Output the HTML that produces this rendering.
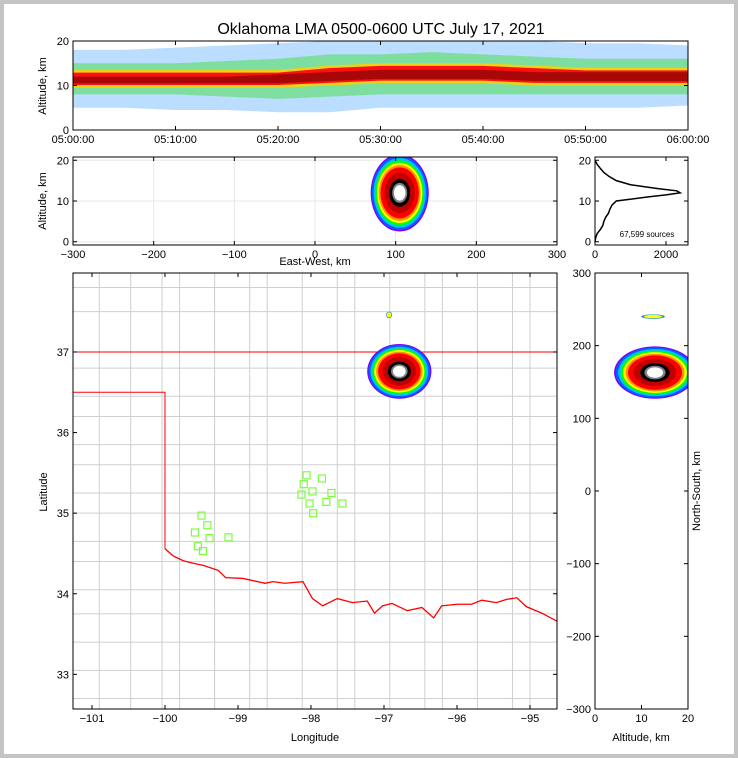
<!DOCTYPE html>
<html><head><meta charset="utf-8"><style>
body{margin:0;background:#fff}
svg{display:block;font-family:"Liberation Sans",sans-serif}
text{fill:#000}
</style></head><body>
<svg id="fig" width="738" height="758" viewBox="0 0 738 758">
<rect x="0" y="0" width="738" height="758" fill="#c4c4c4"/>
<rect x="4" y="4" width="730" height="750" fill="#fff"/>
<text x="381" y="34" font-size="16" text-anchor="middle">Oklahoma LMA 0500-0600 UTC July 17, 2021</text>
<g id="layer"></g>
</svg>
<script>
// ---- data ----
const timeMin=[0,5,10,15,20,25,30,35,40,45,50,55,60];
const scatLo=[5,5,4.5,4.5,4,4,5,5,5,5,5,5,5.5];
const scatHi=[18,18,18.5,19,19.5,20,20,20,20,20,19.5,19.5,19];
const greenLo=[8,8,8,7.5,7,7.5,8,8,8,8,8,8,8];
const greenHi=[15,15,15,15.5,16,17,17,17.5,17,16.5,16,16,16];
const coreLo=[9.5,9.5,9.5,9.5,9.5,10,10.5,10.5,10.5,10,10,10,10];
const coreHi=[13.5,13.5,13.5,13.5,13.5,14.5,15,15,15,14.5,14,14,14];
const darkLo=[10.5,10.5,10.5,10.5,10.5,11,11.5,11.5,11.5,11,11,11,11];
const darkHi=[12,12,12,12,12.5,13,13.5,13.5,13.5,13,13,13,13];
const timeTicks=["05:00:00","05:10:00","05:20:00","05:30:00","05:40:00","05:50:00","06:00:00"];
const histAlt=[0,1,2,3,4,5,6,7,8,9,10,11,11.5,12,12.5,13,13.5,14,15,16,17,18,19,20];
const histCount=[0,20,60,150,220,250,300,380,420,480,600,1500,2000,2400,2300,1800,1400,1000,600,400,250,150,60,0];
const histTicks=[0,2000];
const blobLon=[-96.79,-96.93]; const blobLat=[36.76,37.46]; const blobRx=[0.44,0.04]; const blobRy=[0.34,0.04]; const blobLvl=[1,0.3];
const ewKm=[105]; const ewAlt=[12]; const ewRx=[36]; const ewRy=[9.5];
const nsAlt=[12.9,12.5]; const nsKm=[163,240]; const nsRx=[8.8,2.5]; const nsRy=[36,3];
const stLon=[-99.50,-99.42,-99.59,-99.39,-99.55,-99.48,-99.13,-98.06,-97.85,-98.10,-97.98,-98.13,-97.72,-98.02,-97.79,-97.57,-97.97];
const stLat=[34.97,34.85,34.76,34.69,34.59,34.53,34.70,35.47,35.43,35.36,35.27,35.23,35.25,35.12,35.14,35.12,35.00];
const riverLon=[-100,-99.89,-99.75,-99.62,-99.47,-99.27,-99.17,-98.93,-98.63,-98.52,-98.36,-98.11,-97.98,-97.84,-97.64,-97.43,-97.23,-97.13,-97.02,-96.89,-96.68,-96.48,-96.32,-96.21,-96.00,-95.80,-95.66,-95.46,-95.32,-95.18,-95.05,-94.84,-94.63];
const riverLat=[34.56,34.47,34.41,34.38,34.35,34.29,34.20,34.19,34.13,34.15,34.13,34.15,33.94,33.85,33.94,33.89,33.91,33.76,33.85,33.88,33.79,33.83,33.70,33.85,33.87,33.87,33.92,33.89,33.93,33.95,33.84,33.76,33.66];
// ---- helpers ----
const NS='http://www.w3.org/2000/svg';
const L=document.getElementById('layer');
function mk(tag,at,parent){const e=document.createElementNS(NS,tag);for(const k in at)e.setAttribute(k,at[k]);(parent||L).appendChild(e);return e;}
function lin(d0,d1,r0,r1){return v=>r0+(v-d0)/(d1-d0)*(r1-r0);}
const cols=['#8000ff','#0060ff','#00c0ff','#00ff00','#ffff00','#ff9000','#ff0000','#c00000','#000000','#808080','#ffffff'];
function blob(cx,cy,rx,ry,lvl,nm){
  const g=mk('g',{});
  
  
  const fr=[1,0.96,0.9,0.84,0.78,0.72,0.66,0.52,0.36,0.26,0.2];
  const n=lvl<1?5:cols.length;
  for(let i=0;i<n;i++){const c=mk('ellipse',{cx:cx,cy:cy,rx:rx*fr[i],ry:ry*fr[i],fill:cols[i]},g);}
}
function frame(x0,y0,x1,y1,nm){const r=mk('rect',{x:x0,y:y0,width:x1-x0,height:y1-y0,fill:'none',stroke:'#000','stroke-width':1});}
function tickX(x,yb,yt,lab,nm){mk('line',{x1:x,x2:x,y1:yb,y2:yb-4,stroke:'#000'});mk('line',{x1:x,x2:x,y1:yt,y2:yt+4,stroke:'#000'});const t=mk('text',{x:x,y:yb+13,'font-size':11,'text-anchor':'middle'});t.textContent=lab;}
function tickY(y,xl,xr,lab,nm,right){mk('line',{x1:xl,x2:xl+4,y1:y,y2:y,stroke:'#000'});mk('line',{x1:xr,x2:xr-4,y1:y,y2:y,stroke:'#000'});const t=mk('text',{x:right?xr+4:xl-4,y:y+4,'font-size':11,'text-anchor':right?'start':'end'});t.textContent=lab;}
function label(x,y,s,nm,rot){const t=mk('text',{x:x,y:y,'font-size':11,'text-anchor':'middle'});if(rot)t.setAttribute('transform','rotate(-90 '+x+' '+y+')');t.textContent=s;}
function band(lo,hi,fx,fy,fill,op,nm){let p=[];for(let i=0;i<timeMin.length;i++)p.push(fx(timeMin[i])+','+fy(hi[i]));for(let i=timeMin.length-1;i>=0;i--)p.push(fx(timeMin[i])+','+fy(lo[i]));const e=mk('polygon',{points:p.join(' '),fill:fill,opacity:op});}
// ---- top time-height panel ----
{const x=lin(0,60,73,688),y=lin(0,20,130,41);
 band(scatLo,scatHi,x,y,'#1e90ff',0.3,'scatter-band');
 band(greenLo,greenHi,x,y,'#40e040',0.5,'green-band');
 band(coreLo,coreHi,x,y,'#ffd000',0.85,'yellow-band');
 band(coreLo.map(v=>v+0.6),coreHi.map(v=>v-0.6),x,y,'#ff1010',1,'red-band');
 band(darkLo,darkHi,x,y,'#600000',0.55,'dark-core-band');
 frame(73,41,688,130,'time-height-axes');
 timeTicks.forEach((s,i)=>tickX(x(i*10),130,41,s,'time-tick-label'));
 [0,10,20].forEach(v=>tickY(y(v),73,688,v,'alt-tick-label'));
 label(46,86,'Altitude, km','top-y-axis-title',true);}
// ---- east-west panel ----
{const x=lin(-300,300,73,557),y=lin(-0.8,20.8,245,157);
 for(let v=-300;v<=300;v+=100){mk('line',{x1:x(v),x2:x(v),y1:157,y2:245,stroke:'#e8e8e8'});}
 [0,10,20].forEach(v=>mk('line',{x1:73,x2:557,y1:y(v),y2:y(v),stroke:'#e8e8e8'}));
 const cl=mk('clipPath',{id:'ec'});mk('rect',{x:73,y:157,width:484,height:88},cl);
 const gg=mk('g',{'clip-path':'url(#ec)'});
 ewKm.forEach((k,i)=>{blob(x(k),y(ewAlt[i]),ewRx[i]*0.807,ewRy[i]*4.07,1,'ew-density');gg.appendChild(L.lastChild);});
 frame(73,157,557,245,'east-west-axes');
 for(let v=-300;v<=300;v+=100)tickX(x(v),245,157,v<0?'\u2212'+(-v):v,'ew-tick-label');
 [0,10,20].forEach(v=>tickY(y(v),73,557,v,'ew-alt-tick-label'));
 label(315,265,'East-West, km','ew-x-axis-title');
 label(46,201,'Altitude, km','ew-y-axis-title',true);}
// ---- histogram panel ----
{const x=lin(0,2620,595,688),y=lin(-0.8,20.8,245,157);
 const p=histAlt.map((a,i)=>x(histCount[i])+','+y(a)).join(' ');
 const e=mk('polyline',{points:p,fill:'none',stroke:'#000','stroke-width':1.5});
 frame(595,157,688,245,'histogram-axes');
 histTicks.forEach(v=>tickX(x(v),245,157,v,'hist-tick-label'));
 [0,10,20].forEach(v=>tickY(y(v),595,688,v,'hist-alt-tick-label'));
 const t=mk('text',{x:647,y:237,'font-size':8,'text-anchor':'middle'});t.textContent='67,599 sources';}
// ---- map ----
{const x=lin(-101.26,-94.63,73,557),y=lin(32.57,37.98,709,273);
 const cl=mk('clipPath',{id:'mc'});mk('rect',{x:73,y:273,width:484,height:436},cl);
 const g=mk('g',{'clip-path':'url(#mc)'});
 const vx=[-100.9,-100.55,-100.2,-99.8,-99.4,-99.0,-98.6,-98.2,-97.8,-97.4,-97.0,-96.6,-96.2,-95.8,-95.4,-95.0];
 vx.forEach((v,i)=>{const off=(i%3)*0.08;mk('line',{x1:x(v+off),x2:x(v+off),y1:273,y2:709,stroke:'#cfcfcf'},g);});
 const hy=[37.8,37.45,37.0,36.75,36.45,36.15,35.85,35.55,35.25,34.95,34.65,34.35,34.05,33.7,33.4,33.0,32.7];
 hy.forEach((v,i)=>{const off=(i%2)*0.05;mk('line',{x1:73,x2:557,y1:y(v+off),y2:y(v+off),stroke:'#cfcfcf'},g);});
 mk('polyline',{points:'73,352 557,352',stroke:'#f00',fill:'none'});
 const st=mk('polyline',{points:x(-101.26)+','+y(36.5)+' '+x(-100)+','+y(36.5)+' '+x(-100)+','+y(34.56),stroke:'#f00',fill:'none'});
 const rv=mk('polyline',{points:riverLon.map((v,i)=>x(v)+','+y(riverLat[i])).join(' '),stroke:'#f00',fill:'none','stroke-width':1.3});
 mk('line',{x1:557,x2:557,y1:352,y2:620,stroke:'#f00'});
 blobLon.forEach((v,i)=>blob(x(v),y(blobLat[i]),blobRx[i]*73,blobRy[i]*80.5,blobLvl[i],'map-density'));
 stLon.forEach((v,i)=>{const r=mk('rect',{x:x(v)-3.5,y:y(stLat[i])-3.5,width:7,height:7,fill:'none',stroke:'#7cfc40','stroke-width':1.2});});
 frame(73,273,557,709,'map-axes');
 [-101,-100,-99,-98,-97,-96,-95].forEach(v=>tickX(x(v),709,273,'\u2212'+(-v),'lon-tick-label'));
 [33,34,35,36,37].forEach(v=>tickY(y(v),73,557,v,'lat-tick-label'));
 label(315,741,'Longitude','map-x-axis-title');
 label(47,492,'Latitude','map-y-axis-title',true);}
// ---- north-south panel ----
{const x=lin(0,20,595,688),y=lin(-300,300,709,273);
 const cl=mk('clipPath',{id:'nc'});mk('rect',{x:595,y:273,width:93,height:436},cl);
 const gg=mk('g',{'clip-path':'url(#nc)'});
 nsAlt.forEach((a,i)=>{blob(x(a),y(nsKm[i]),nsRx[i]*4.65,nsRy[i]*0.727,i?0.3:1,'ns-density');gg.appendChild(L.lastChild);});
 frame(595,273,688,709,'north-south-axes');
 [0,10,20].forEach(v=>tickX(x(v),709,273,v,'ns-alt-tick-label'));
 [-300,-200,-100,0,100,200,300].forEach(v=>tickY(y(v),595,688,v<0?'\u2212'+(-v):v,'ns-tick-label',false));
 label(641,741,'Altitude, km','ns-x-axis-title');
 label(700,491,'North-South, km','ns-y-axis-title',true);}
</script>
</body></html>
